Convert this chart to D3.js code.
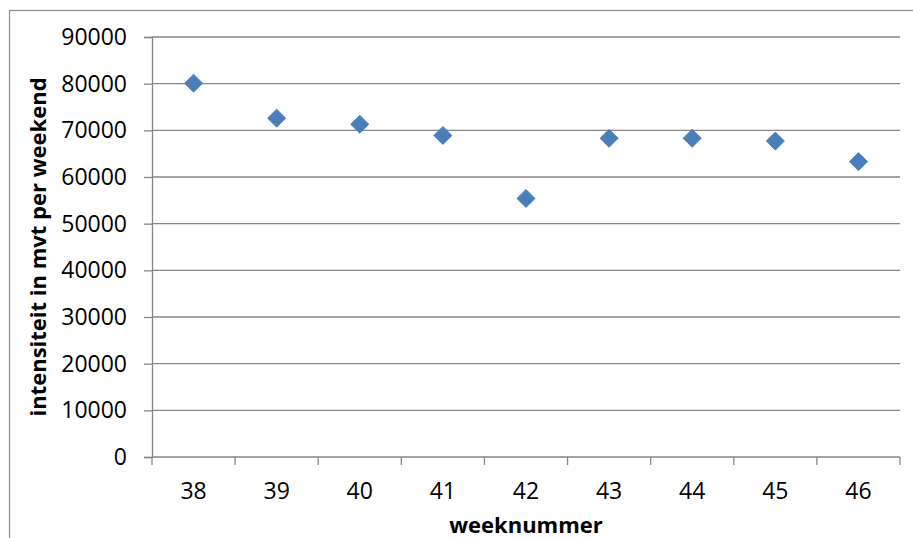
<!DOCTYPE html>
<html>
<head>
<meta charset="utf-8">
<script src="https://cdn.jsdelivr.net/npm/d3@7"></script>
<style>
  html, body { margin: 0; padding: 0; background: #fff; }
  svg { display: block; }
  text { font-family: "Open Sans", "Liberation Sans", sans-serif; fill: #000; }
</style>
</head>
<body>
<svg id="chart" width="913" height="538"></svg>
<script>
// Weekly weekend intensity (motor vehicles per weekend)
const weeks = ["38", "39", "40", "41", "42", "43", "44", "45", "46"];
const intensity = [80100, 72600, 71300, 68900, 55400, 68300, 68300, 67700, 63300];
const yTicks = [0, 10000, 20000, 30000, 40000, 50000, 60000, 70000, 80000, 90000];
const xTitle = "weeknummer";
const yTitle = "intensiteit in mvt per weekend";

const svg = d3.select("#chart");
const W = 913, H = 538;
const plot = { left: 152, right: 900, top: 37, bottom: 457 };
const gridColor = "#868686";

// chart area frame
svg.append("rect")
  .attr("x", 9.5).attr("y", 10.5)
  .attr("width", W + 10).attr("height", H + 10)
  .attr("fill", "#fff").attr("stroke", "#8c8c8c").attr("stroke-width", 1.2);

const x = d3.scaleBand().domain(weeks).range([plot.left, plot.right]).padding(0);
const y = d3.scaleLinear().domain([0, 90000]).range([plot.bottom, plot.top]);

// horizontal gridlines
svg.append("g")
  .selectAll("line")
  .data(yTicks.filter(d => d > 0))
  .join("line")
  .attr("x1", plot.left).attr("x2", plot.right)
  .attr("y1", d => y(d)).attr("y2", d => y(d))
  .attr("stroke", gridColor).attr("stroke-width", 1.3);

// y axis
const yAxis = d3.axisLeft(y).tickValues(yTicks).tickSize(8).tickPadding(17).tickFormat(d3.format("d"));
const gy = svg.append("g").attr("transform", `translate(${plot.left},0)`).call(yAxis);
gy.select(".domain").attr("stroke", gridColor).attr("stroke-width", 1.3);
gy.selectAll(".tick line").attr("stroke", gridColor).attr("stroke-width", 1.3);
gy.selectAll(".tick text")
  .attr("font-size", 23).attr("fill", "#000")
  .attr("font-family", "'Open Sans', sans-serif");

// x axis with ticks at category boundaries
const gx = svg.append("g").attr("transform", `translate(0,${plot.bottom})`);
gx.append("line")
  .attr("x1", plot.left).attr("x2", plot.right)
  .attr("y1", 0).attr("y2", 0)
  .attr("stroke", gridColor).attr("stroke-width", 1.3);
const bounds = weeks.map(w => x(w)).concat([x(weeks[weeks.length - 1]) + x.bandwidth()]);
gx.selectAll("line.tk")
  .data(bounds)
  .join("line").attr("class", "tk")
  .attr("x1", d => d).attr("x2", d => d)
  .attr("y1", 0).attr("y2", 8)
  .attr("stroke", gridColor).attr("stroke-width", 1.3);
gx.selectAll("text")
  .data(weeks)
  .join("text")
  .attr("x", d => x(d) + x.bandwidth() / 2)
  .attr("y", 42)
  .attr("text-anchor", "middle")
  .attr("font-size", 23)
  .text(d => d);

// diamond markers
const diamond = d3.symbol().type(d3.symbolDiamond2).size(210);
svg.append("g")
  .selectAll("path")
  .data(weeks.map((w, i) => ({ w, v: intensity[i] })))
  .join("path")
  .attr("d", diamond)
  .attr("transform", d => `translate(${x(d.w) + x.bandwidth() / 2},${y(d.v)})`)
  .attr("fill", "#4a7ebb")
  .attr("stroke", "#4578b5")
  .attr("stroke-width", 0.8);

// axis titles
svg.append("text")
  .attr("x", (plot.left + plot.right) / 2)
  .attr("y", 533)
  .attr("text-anchor", "middle")
  .attr("font-size", 22)
  .attr("font-weight", "bold")
  .text(xTitle);

svg.append("text")
  .attr("transform", `translate(46,${(plot.top + plot.bottom) / 2}) rotate(-90)`)
  .attr("text-anchor", "middle")
  .attr("font-size", 22)
  .attr("font-weight", "bold")
  .text(yTitle);
</script>
</body>
</html>
